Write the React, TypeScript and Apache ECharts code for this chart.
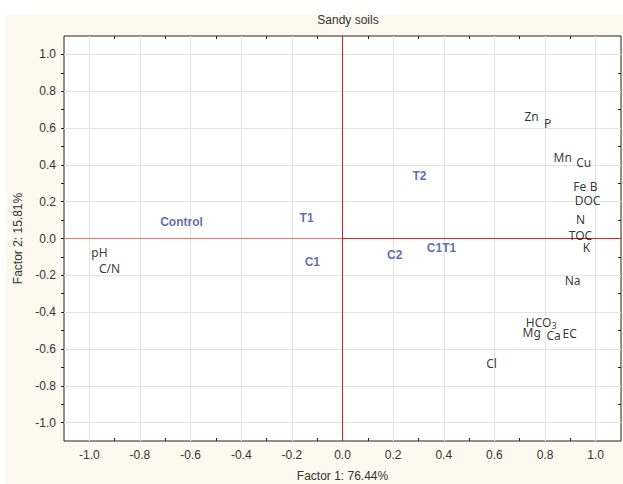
import React, { useEffect, useRef } from "react";
import * as echarts from "echarts";

const treatmentNames = ["Control", "T1", "C1", "T2", "C2", "C1T1"];
const treatmentX = [-0.636, -0.142, -0.119, 0.304, 0.206, 0.391];
const treatmentY = [0.087, 0.114, -0.13, 0.337, -0.092, -0.054];

const variableNames = ["pH", "C/N", "Zn", "P", "Mn", "Cu", "Fe", "B", "DOC", "N", "TOC", "K", "Na", "HCO3", "Mg", "Ca", "EC", "Cl"];
const variableX = [-0.96, -0.92, 0.747, 0.81, 0.87, 0.953, 0.937, 0.992, 0.968, 0.94, 0.94, 0.964, 0.909, 0.785, 0.747, 0.834, 0.897, 0.589];
const variableY = [-0.076, -0.163, 0.663, 0.625, 0.44, 0.413, 0.283, 0.283, 0.207, 0.103, 0.016, -0.049, -0.228, -0.457, -0.511, -0.527, -0.516, -0.679];

const majorTicks = [-1.0, -0.8, -0.6, -0.4, -0.2, 0.0, 0.2, 0.4, 0.6, 0.8, 1.0];
const minorTicks = [-0.9, -0.7, -0.5, -0.3, -0.1, 0.1, 0.3, 0.5, 0.7, 0.9];

const titleText = "Sandy soils";
const xAxisName = "Factor 1: 76.44%";
const yAxisName = "Factor 2: 15.81%";

const AXIS_MIN = -1.1;
const AXIS_MAX = 1.1;

export default function App() {
  const ref = useRef<HTMLDivElement>(null);
  useEffect(() => {
    if (!ref.current) return;
    const chart = echarts.init(ref.current, null, { renderer: "svg" });
    const labelFont = "Liberation Sans, Arial, sans-serif";
    const varFont = "Noto Sans, Open Sans, sans-serif";
    const gridColor = "#e4e4e4";
    const baseX = (position: string, inside: boolean, showLabel: boolean) => ({
      type: "value",
      position,
      min: AXIS_MIN,
      max: AXIS_MAX,
      axisLine: { show: false, onZero: false },
      axisTick: { show: true, inside, length: 3, customValues: [...majorTicks, ...minorTicks], lineStyle: { color: "#222" } },
      axisLabel: {
        show: showLabel,
        customValues: majorTicks,
        formatter: (v: number) => v.toFixed(1),
        color: "#333",
        fontSize: 12,
        fontFamily: labelFont,
        margin: 8,
      },
      splitLine: { show: false },
    });
    const option: any = {
      animation: false,
      backgroundColor: "transparent",
      graphic: [
        { type: "rect", z: -10, shape: { x: 6, y: 15, width: 617, height: 469 }, style: { fill: "#fdf9ee" } },
      ],
      title: {
        text: titleText,
        left: 343,
        textAlign: "center",
        top: 9,
        textStyle: { fontSize: 12, fontWeight: "normal", color: "#333", fontFamily: labelFont },
      },
      grid: {
        left: 64,
        top: 36,
        width: 557,
        height: 405,
        containLabel: false,
        outerBoundsMode: "none",
        show: true,
        backgroundColor: "#ffffff",
        borderColor: "#222",
        borderWidth: 1,
      },
      xAxis: [
        {
          ...baseX("bottom", true, true),
          name: xAxisName,
          nameLocation: "middle",
          nameGap: 29,
          nameTextStyle: { fontSize: 12, color: "#333", fontFamily: labelFont },
        },
        baseX("top", true, false),
      ],
      yAxis: [
        {
          ...baseX("left", false, true),
          name: yAxisName,
          nameLocation: "middle",
          nameGap: 40,
          nameRotate: 90,
          nameTextStyle: { fontSize: 12, color: "#333", fontFamily: labelFont },
        },
        baseX("right", true, false),
      ],
      series: [
        {
          type: "scatter",
          z: 1,
          silent: true,
          data: [],
          markLine: {
            silent: true,
            symbol: ["none", "none"],
            label: { show: false },
            lineStyle: { color: gridColor, width: 1, type: "solid" },
            data: [
              ...majorTicks.filter((v) => v !== 0).map((v) => ({ xAxis: v })),
              ...majorTicks.filter((v) => v !== 0).map((v) => ({ yAxis: v })),
            ],
          },
        },
        {
          type: "scatter",
          z: 10,
          silent: true,
          data: [],
          markLine: {
            silent: true,
            symbol: ["none", "none"],
            label: { show: false },
            lineStyle: { color: "#f07070", width: 1, type: "solid" },
            data: [[{ coord: [AXIS_MIN, 0] }, { coord: [0, 0] }]],
          },
        },
        {
          type: "scatter",
          z: 10,
          silent: true,
          data: [],
          markLine: {
            silent: true,
            symbol: ["none", "none"],
            label: { show: false },
            lineStyle: { color: "#e41e1e", width: 1, type: "solid" },
            data: [[{ coord: [0, 0] }, { coord: [AXIS_MAX, 0] }]],
          },
        },
        {
          type: "scatter",
          z: 10,
          silent: true,
          data: [],
          markLine: {
            silent: true,
            symbol: ["none", "none"],
            label: { show: false },
            lineStyle: { color: "#d81a1a", width: 1, type: "solid" },
            data: [{ xAxis: 0 }],
          },
        },
        {
          type: "scatter",
          z: 5,
          symbolSize: 1,
          itemStyle: { color: "transparent" },
          data: treatmentNames.map((n, i) => ({ name: n, value: [treatmentX[i], treatmentY[i]] })),
          label: {
            show: true,
            position: "inside",
            formatter: (p: any) => p.name,
            color: "#2f4a9e",
            fontWeight: "bold",
            fontSize: 12,
            fontFamily: labelFont,
          },
        },
        {
          type: "scatter",
          z: 5,
          symbolSize: 1,
          itemStyle: { color: "transparent" },
          data: variableNames.map((n, i) => ({ name: n, value: [variableX[i], variableY[i]] })),
          label: {
            show: true,
            position: "inside",
            formatter: (p: any) => (p.name === "HCO3" ? "{b|HCO}{s|3}" : "{b|" + p.name + "}"),
            rich: {
              b: { color: "#000", fontSize: 12, fontFamily: varFont },
              s: { color: "#000", fontSize: 9, fontFamily: varFont, padding: [6, 0, 0, 0] },
            },
          },
        },
      ],
    };
    chart.setOption(option);
    return () => chart.dispose();
  }, []);
  return (
    <div
      ref={ref}
      style={{ position: "fixed", left: 0, top: 0, width: 623, height: 484, background: "#ffffff" }}
    />
  );
}
